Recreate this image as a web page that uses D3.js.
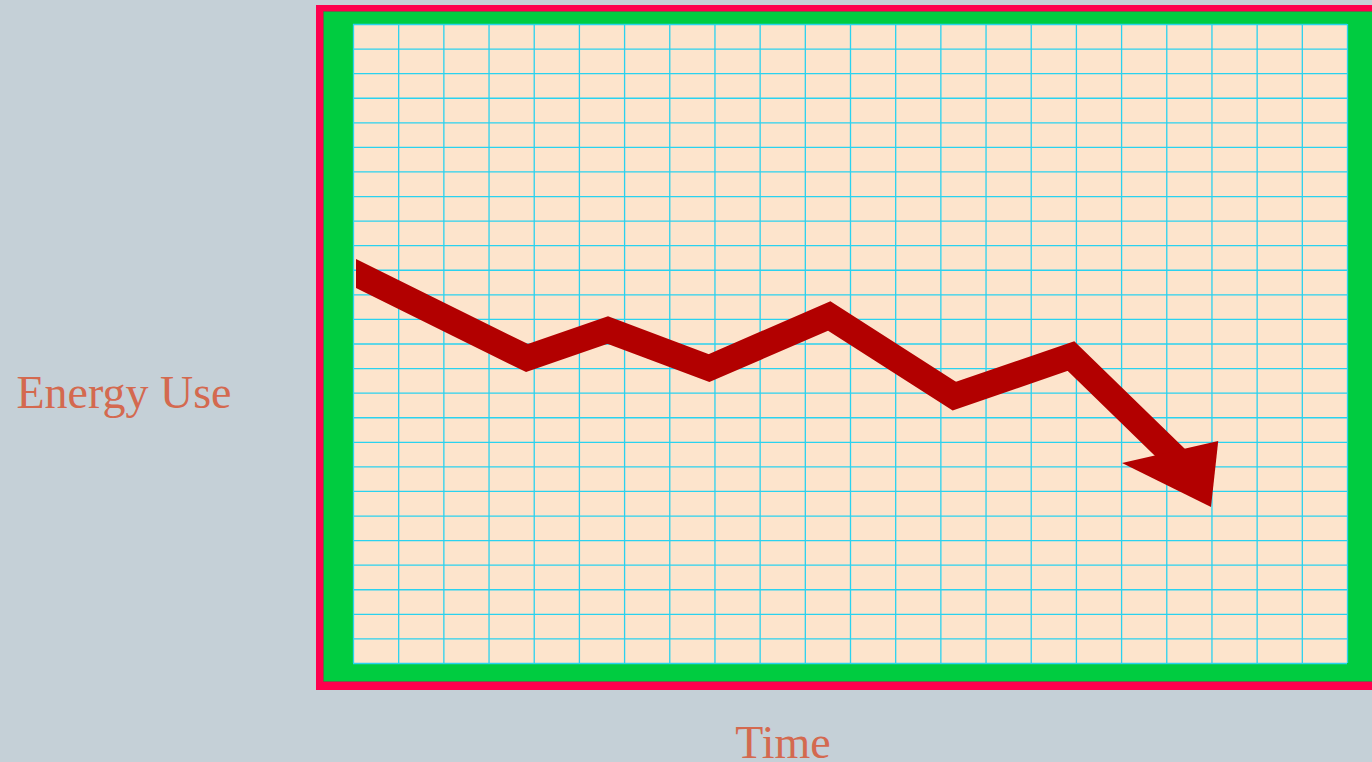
<!DOCTYPE html>
<html>
<head>
<meta charset="utf-8">
<script src="https://cdn.jsdelivr.net/npm/d3@7"></script>
<style>
  html, body { margin: 0; padding: 0; background: #c5d0d7; }
  svg { display: block; }
</style>
</head>
<body>
<script>
// Energy use over time, on grid units
const timeSteps  = [-0.5, 3.85, 5.64, 7.88, 10.54, 13.31, 15.89, 18.30];
const energyUse  = [16.36, 12.41, 13.55, 12.00, 14.12, 10.86, 12.49, 8.18];
// Arrow head at the end of the trend line
const headTime   = [17.02, 19.15, 18.99];
const headEnergy = [8.14, 9.03, 6.35];
// Grid divisions
const timeGridTicks   = d3.range(0, 23);
const energyGridTicks = d3.range(0, 27);

const W = 1372, H = 762;
const plot = { left: 353, top: 24, right: 1347, bottom: 663 };

const svg = d3.select("body").append("svg")
  .attr("width", W).attr("height", H);

svg.append("rect").attr("width", W).attr("height", H).attr("fill", "#c5d0d7");

// Frame: red outer band, green mat
svg.append("rect")
  .attr("x", 316).attr("y", 5).attr("width", 1100).attr("height", 685)
  .attr("fill", "#fe004e");
svg.append("rect")
  .attr("x", 323.5).attr("y", 11.5).attr("width", 1100).attr("height", 670)
  .attr("fill", "#00cc40")
  .attr("stroke", "rgba(90,90,70,0.45)").attr("stroke-width", 1);

const x = d3.scaleLinear().domain([0, 22]).range([plot.left, plot.right]);
const y = d3.scaleLinear().domain([0, 26]).range([plot.bottom, plot.top]);

// Plot background
svg.append("rect")
  .attr("x", plot.left).attr("y", plot.top)
  .attr("width", plot.right - plot.left).attr("height", plot.bottom - plot.top)
  .attr("fill", "#fde4cc");

// Grid lines
const gridColor = "#2ad2ef";
const gx = svg.append("g")
  .attr("transform", `translate(0,${plot.bottom})`)
  .call(d3.axisBottom(x).tickValues(timeGridTicks).tickFormat("")
    .tickSize(-(plot.bottom - plot.top)).tickSizeOuter(0));
const gy = svg.append("g")
  .attr("transform", `translate(${plot.left},0)`)
  .call(d3.axisLeft(y).tickValues(energyGridTicks).tickFormat("")
    .tickSize(-(plot.right - plot.left)).tickSizeOuter(0));
[gx, gy].forEach(g => {
  g.select(".domain").remove();
  g.selectAll(".tick line").attr("stroke", gridColor).attr("stroke-width", 1.3);
});

// Trend line, clipped to the plot area
svg.append("clipPath").attr("id", "plotClip")
  .append("rect")
  .attr("x", plot.left + 3).attr("y", plot.top)
  .attr("width", plot.right - plot.left - 3).attr("height", plot.bottom - plot.top);

const pts = timeSteps.map((t, i) => [t, energyUse[i]]);
const line = d3.line().x(d => x(d[0])).y(d => y(d[1]));
svg.append("path")
  .attr("clip-path", "url(#plotClip)")
  .attr("d", line(pts))
  .attr("fill", "none")
  .attr("stroke", "#b20000")
  .attr("stroke-width", 26)
  .attr("stroke-linejoin", "miter")
  .attr("stroke-miterlimit", 10);

const head = headTime.map((t, i) => [t, headEnergy[i]]);
svg.append("path")
  .attr("d", line(head) + "Z")
  .attr("fill", "#b20000");

// Axis titles
const labelStyle = sel => sel
  .attr("font-family", "'Liberation Serif', 'DejaVu Serif', serif")
  .attr("font-size", 46)
  .attr("fill", "#d4694f");
svg.append("text").text("Energy Use")
  .attr("x", 124).attr("y", 408).attr("text-anchor", "middle")
  .call(labelStyle);
svg.append("text").text("Time")
  .attr("x", 783).attr("y", 758).attr("text-anchor", "middle")
  .call(labelStyle);
</script>
</body>
</html>
